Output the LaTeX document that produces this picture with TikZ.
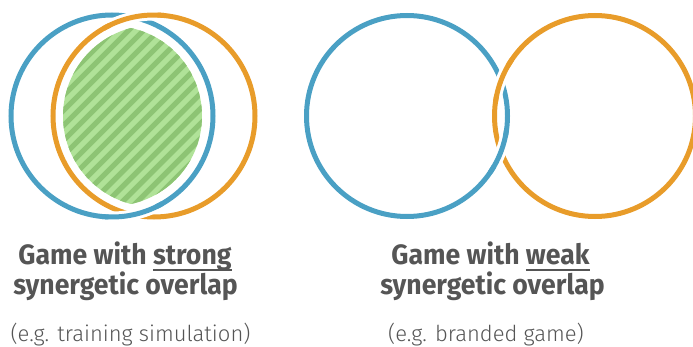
\documentclass[tikz,border=0pt]{standalone}
\usepackage{fontspec}
\setmainfont{Fira Sans}[FakeStretch=0.95]
\newfontfamily\lightcond{Fira Sans Light}
\definecolor{cblue}{RGB}{74,160,196}
\definecolor{corange}{RGB}{232,156,42}
\definecolor{glight}{RGB}{176,226,152}
\definecolor{gdark}{RGB}{141,196,116}
\definecolor{txt}{RGB}{85,85,85}
\newcommand\myul[1]{\setbox0\hbox{#1}\rlap{\rule[-7pt]{\wd0}{2pt}}\box0}
\tikzset{
  ring/.style={line width=5pt},
  casing/.style={white, line width=11pt},
  title/.style={text=txt, font=\bfseries\fontsize{28}{32}\selectfont, anchor=base, inner sep=0pt},
  sub/.style={text=txt, font=\lightcond\fontsize{22}{26}\selectfont, anchor=base, inner sep=0pt}
}
\begin{document}
\begin{tikzpicture}[x=1pt,y=1pt]
\useasboundingbox (0,0) rectangle (693,346);
\clip (0,0) rectangle (693,346);
% striped lens
\begin{scope}
  \clip (154,230) circle (91);
  \clip (112,230) circle (90);
  \fill[glight] (0,100) rectangle (300,346);
  \foreach \i in {-20,...,20}
    \draw[gdark, line width=5.3pt] ({133+\i*15-150},80) -- ++(300,300);
\end{scope}
% left rings (strong overlap)
\draw[ring, cblue] (112,230) circle (101);
\draw[ring, corange] (154,230) circle (101);
\draw[casing] ([shift={(88:101)}]154,230) arc (88:116:101);
\draw[ring, corange] ([shift={(84:101)}]154,230) arc (84:120:101);
\draw[casing] ([shift={(-92:101)}]112,230) arc (-92:-64:101);
\draw[ring, cblue] ([shift={(-96:101)}]112,230) arc (-96:-60:101);
% right rings (weak overlap)
\draw[ring, cblue] (407,230) circle (100.5);
\draw[ring, corange] (595,230) circle (100.5);
\draw[casing] ([shift={(150:100.5)}]595,230) arc (150:168:100.5);
\draw[ring, corange] ([shift={(146:100.5)}]595,230) arc (146:172:100.5);
\draw[casing] ([shift={(-30:100.5)}]407,230) arc (-30:-12:100.5);
\draw[ring, cblue] ([shift={(-34:100.5)}]407,230) arc (-34:-8:100.5);
% texts
\node[title] (l1) at (125,81.7) {Game with \myul{strong}};
\node[title] (l2) at (125.5,51.7) {synergetic overlap};
\node[sub] (l3) at (130.5,4.5) {(e.g. training simulation)};
\node[title] (r1) at (490.5,81.7) {Game with \myul{weak}};
\node[title] (r2) at (492.5,51.7) {synergetic overlap};
\node[sub] (r3) at (486,4.5) {(e.g. branded game)};
\end{tikzpicture}
\end{document}
